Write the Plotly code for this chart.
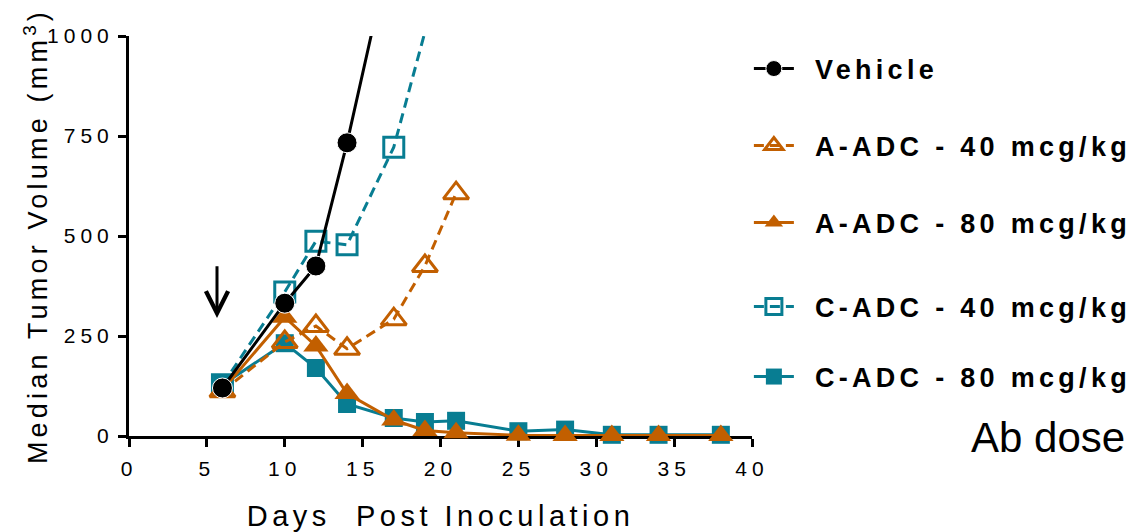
import plotly.graph_objects as go

# Median tumor volume (mm^3) by day post inoculation
days_vehicle = [6, 10, 12, 14, 17]
vehicle = [120, 332, 425, 733, 1253]

days_a40 = [6, 10, 12, 14, 17, 19, 21]
a_adc_40 = [112, 235, 275, 218, 292, 425, 607]

days_a80 = [6, 10, 12, 14, 17, 19, 21, 25, 28, 31, 34, 38]
a_adc_80 = [115, 297, 225, 106, 40, 14, 8, 2, 1, 1, 1, 1]

days_c40 = [6, 10, 12, 14, 17, 19]
c_adc_40 = [128, 360, 487, 478, 722, 1010]

days_c80 = [6, 10, 12, 14, 17, 19, 21, 25, 28, 31, 34, 38]
c_adc_80 = [128, 232, 170, 80, 45, 35, 38, 12, 16, 3, 3, 3]

series_names = ["Vehicle", "A-ADC - 40 mcg/kg", "A-ADC - 80 mcg/kg",
                "C-ADC - 40 mcg/kg", "C-ADC - 80 mcg/kg"]

x_ticks = [0, 5, 10, 15, 20, 25, 30, 35, 40]
y_ticks = [0, 250, 500, 750, 1000]
Y_MAX = 1000
X_MAX = 40

# dosing arrow (day, volume at tail, volume at tip)
dose_day = 5.65
arrow_tail = 428
arrow_tip = 295

ORANGE = "#C25F00"
TEAL = "#087D92"
FONT = "Liberation Sans, Arial, sans-serif"


def sizes(values, size):
    # points above the axis range are only used to draw the line leaving the plot
    return [size if v <= Y_MAX else 0 for v in values]


fig = go.Figure()

fig.add_trace(go.Scatter(
    x=days_c80, y=c_adc_80, name=series_names[4], legend="legend5",
    mode="lines+markers", cliponaxis=False,
    line=dict(color=TEAL, width=3),
    marker=dict(symbol="square", size=18, color=TEAL, opacity=1),
))
fig.add_trace(go.Scatter(
    x=days_c40, y=c_adc_40, name=series_names[3], legend="legend4",
    mode="lines+markers", cliponaxis=False,
    line=dict(color=TEAL, width=3, dash="10px,6px"),
    marker=dict(symbol="square-open", size=sizes(c_adc_40, 20), color=TEAL,
                opacity=1, line=dict(color=TEAL, width=3)),
))
fig.add_trace(go.Scatter(
    x=days_a80, y=a_adc_80, name=series_names[2], legend="legend3",
    mode="lines+markers", cliponaxis=False,
    line=dict(color=ORANGE, width=3),
    marker=dict(symbol="triangle-up", size=22, color=ORANGE, opacity=1),
))
fig.add_trace(go.Scatter(
    x=days_a40, y=a_adc_40, name=series_names[1], legend="legend2",
    mode="lines+markers", cliponaxis=False,
    line=dict(color=ORANGE, width=3, dash="10px,6px"),
    marker=dict(symbol="triangle-up-open", size=22, color=ORANGE, opacity=1,
                line=dict(color=ORANGE, width=3)),
))
fig.add_trace(go.Scatter(
    x=days_vehicle, y=vehicle, name=series_names[0], legend="legend",
    mode="lines+markers", cliponaxis=False,
    line=dict(color="black", width=3),
    marker=dict(symbol="circle", size=sizes(vehicle, 20), color="black", opacity=1),
))

legend_style = dict(
    x=0.995, xanchor="left", yanchor="middle",
    font=dict(family=FONT, size=27, color="black", weight="bold"),
    bgcolor="rgba(0,0,0,0)", borderwidth=0, itemwidth=40,
    itemclick=False, itemdoubleclick=False,
)
legend_y = [0.9175, 0.725, 0.5325, 0.3225, 0.1475]

fig.update_layout(
    width=1139, height=532,
    margin=dict(l=129, r=387, t=36, b=96, autoexpand=False),
    paper_bgcolor="white", plot_bgcolor="white",
    font=dict(family=FONT, color="black"),
    showlegend=True,
    legend=dict(legend_style, y=legend_y[0]),
    legend2=dict(legend_style, y=legend_y[1]),
    legend3=dict(legend_style, y=legend_y[2]),
    legend4=dict(legend_style, y=legend_y[3]),
    legend5=dict(legend_style, y=legend_y[4]),
    xaxis=dict(
        range=[0, X_MAX], tickvals=x_ticks, ticktext=[str(t) for t in x_ticks],
        showline=True, linecolor="black", linewidth=3,
        ticks="outside", ticklen=8, tickwidth=3, tickcolor="black",
        showgrid=False, zeroline=False, layer="below traces", automargin=False,
        tickfont=dict(family=FONT, size=21, color="black"), ticklabelstandoff=4,
        title=dict(text="Days\u00a0 Post Inoculation",
                   font=dict(family=FONT, size=29, color="black"), standoff=28),
    ),
    yaxis=dict(
        range=[0, Y_MAX], tickvals=y_ticks, ticktext=[str(t) for t in y_ticks],
        showline=True, linecolor="black", linewidth=3,
        ticks="outside", ticklen=8, tickwidth=3, tickcolor="black",
        showgrid=False, zeroline=False, layer="below traces", automargin=False,
        tickfont=dict(family=FONT, size=21, color="black"),
        title=dict(text="Median Tumor Volume (mm<sup>3</sup>)",
                   font=dict(family=FONT, size=27, color="black"), standoff=12),
    ),
    annotations=[
        dict(x=dose_day, y=arrow_tip, ax=dose_day, ay=arrow_tail,
             xref="x", yref="y", axref="x", ayref="y",
             showarrow=True, arrowhead=5, arrowsize=1.45, arrowwidth=3,
             arrowcolor="black", text=""),
        dict(x=1.475, y=-0.005, xref="paper", yref="paper",
             xanchor="center", yanchor="middle", showarrow=False,
             text="Ab dose", font=dict(family=FONT, size=42, color="black")),
    ],
)

# letter spacing for the axis and legend text, kept after every redraw
post = """
var gd = document.getElementById('{plot_id}');
function spaceText() {
  var rules = [['.infolayer .traces text', '4.3px'], ['.xtitle', '4.5px'],
               ['.ytitle', '4.2px'], ['.xtick text', '5px'], ['.ytick text', '5px']];
  rules.forEach(function (r) {
    gd.querySelectorAll(r[0]).forEach(function (el) { el.style.letterSpacing = r[1]; });
  });
  gd.querySelectorAll('.infolayer .traces text').forEach(function (el) {
    el.style.transform = 'translateX(16px)';
  });
  gd.querySelectorAll('.infolayer [clip-path]').forEach(function (el) {
    el.removeAttribute('clip-path');
  });
}
spaceText();
gd.on('plotly_afterplot', spaceText);
new MutationObserver(spaceText).observe(gd, {childList: true, subtree: true});
"""

fig.write_html("out.html", config={"displayModeBar": False}, post_script=post)
